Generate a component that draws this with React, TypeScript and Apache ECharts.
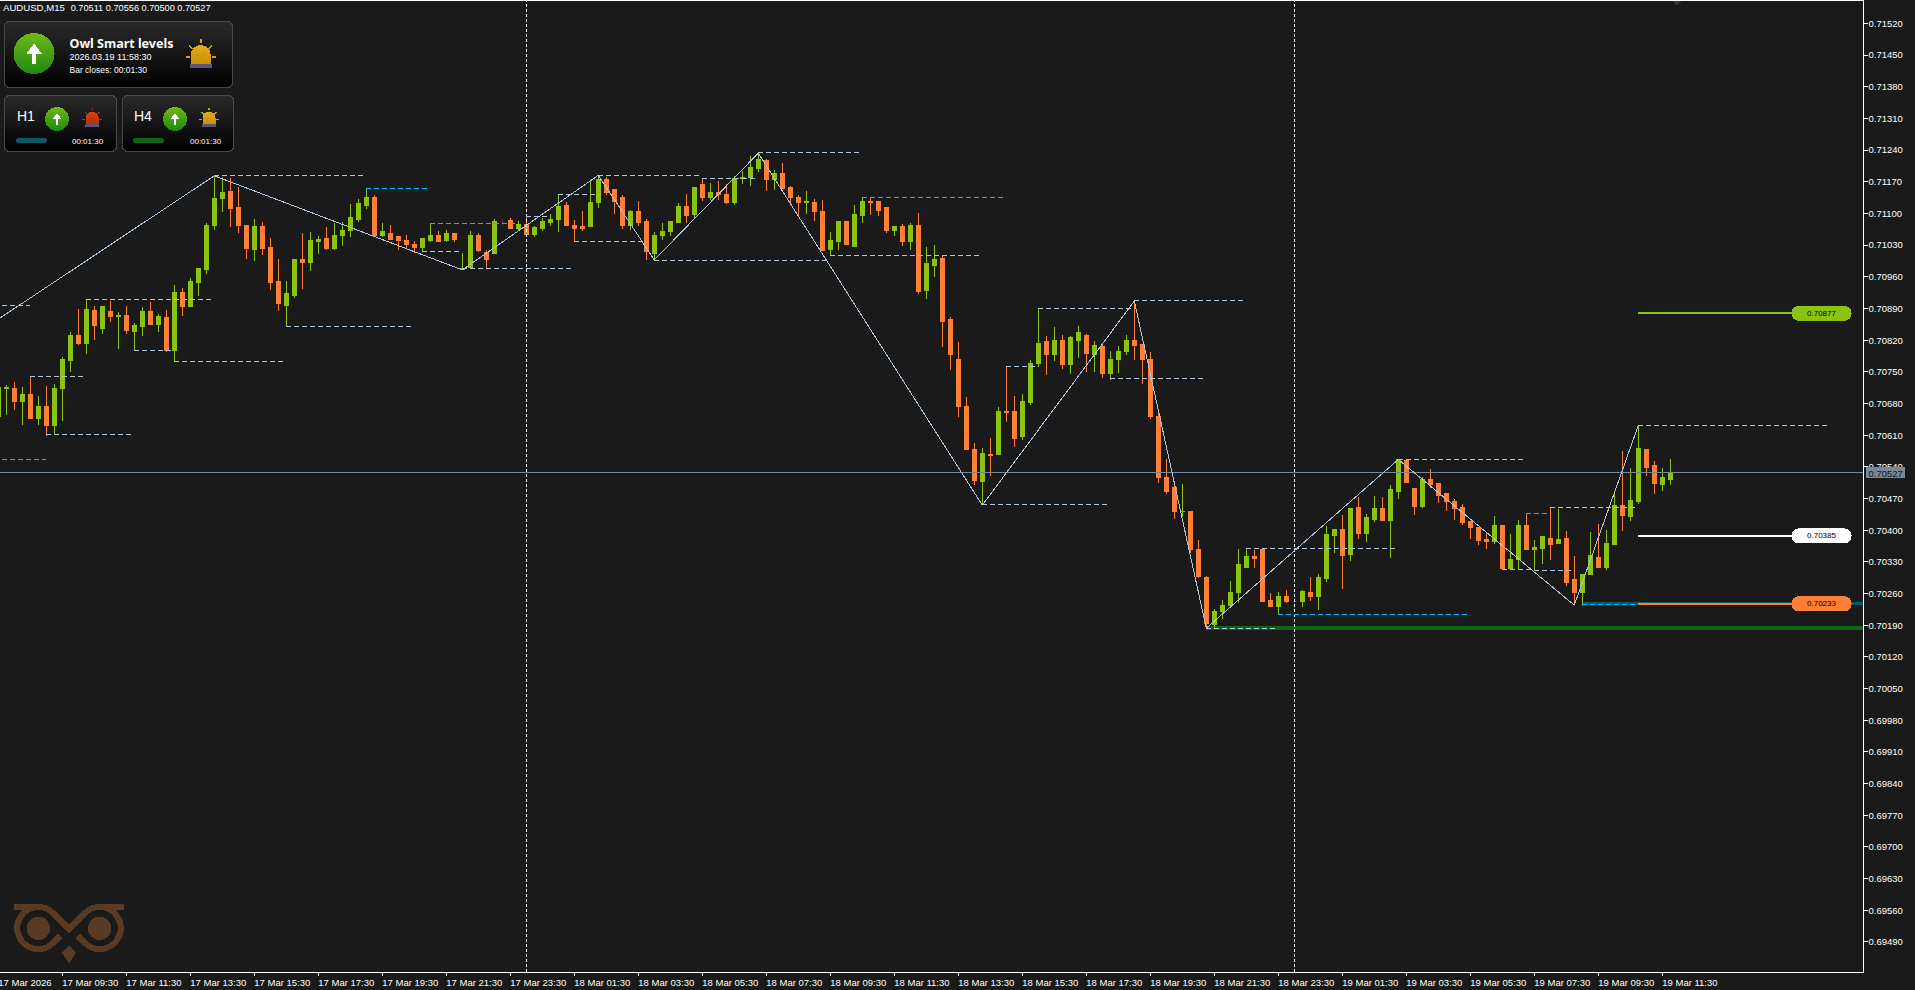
import React, { useEffect, useRef } from "react";
import * as echarts from "echarts";

const opens = [
0.70652,0.70712,0.70712,0.70685,0.70700,0.70647,0.70674,0.70630,0.70712,0.70774,
0.70829,0.70813,0.70886,0.70846,0.70884,0.70871,0.70875,0.70838,0.70849,0.70882,
0.70855,0.70869,0.70796,0.70926,0.70895,0.70948,0.70975,0.71074,0.71132,0.71149,
0.71112,0.71072,0.71021,0.71070,0.71025,0.70950,0.70897,0.70919,0.70997,0.70992,
0.71037,0.71045,0.71023,0.71050,0.71061,0.71087,0.71118,0.71134,0.71052,0.71056,
0.71048,0.71041,0.71032,0.71025,0.71041,0.71050,0.71039,0.71056,0.70975,0.70981,
0.71052,0.71014,0.71012,0.71079,0.71085,0.71067,0.71076,0.71054,0.71067,0.71079,
0.71087,0.71118,0.71074,0.71070,0.71070,0.71123,0.71174,0.71152,0.71136,0.71072,
0.71105,0.71081,0.71012,0.71050,0.71059,0.71079,0.71116,0.71098,0.71163,0.71134,
0.71147,0.71141,0.71123,0.71176,0.71180,0.71200,0.71216,0.71174,0.71187,0.71156,
0.71136,0.71123,0.71125,0.71105,0.71021,0.71037,0.71081,0.71026,0.71096,0.71127,
0.71127,0.71112,0.71063,0.71070,0.71037,0.71072,0.70930,0.70984,0.71001,0.70866,
0.70778,0.70672,0.70579,0.70508,0.70568,0.70568,0.70663,0.70663,0.70606,0.70681,
0.70769,0.70816,0.70787,0.70820,0.70765,0.70820,0.70831,0.70789,0.70805,0.70745,
0.70778,0.70794,0.70818,0.70809,0.70778,0.70650,0.70517,0.70493,0.70440,0.70442,
0.70358,0.70296,0.70192,0.70219,0.70234,0.70261,0.70318,0.70342,0.70358,0.70245,
0.70232,0.70254,0.70242,0.70241,0.70263,0.70254,0.70292,0.70389,0.70402,0.70345,
0.70449,0.70393,0.70424,0.70447,0.70422,0.70486,0.70553,0.70491,0.70453,0.70511,
0.70502,0.70480,0.70464,0.70449,0.70418,0.70405,0.70380,0.70374,0.70409,0.70314,
0.70334,0.70409,0.70358,0.70360,0.70382,0.70371,0.70382,0.70290,0.70263,0.70301,
0.70340,0.70318,0.70369,0.70455,0.70429,0.70464,0.70579,0.70542,0.70500,0.70511];

const highs = [
0.70714,0.70720,0.70727,0.70716,0.70739,0.70696,0.70718,0.70723,0.70783,0.70837,
0.70888,0.70910,0.70895,0.70893,0.70906,0.70882,0.70895,0.70857,0.70893,0.70904,
0.70877,0.70886,0.70942,0.70935,0.70957,0.70979,0.71079,0.71183,0.71180,0.71178,
0.71158,0.71074,0.71087,0.71081,0.71045,0.70999,0.70950,0.70997,0.71056,0.71059,
0.71050,0.71070,0.71079,0.71081,0.71121,0.71132,0.71155,0.71141,0.71079,0.71074,
0.71050,0.71052,0.71039,0.71045,0.71078,0.71061,0.71063,0.71056,0.71012,0.71061,
0.71056,0.71019,0.71087,0.71087,0.71090,0.71083,0.71094,0.71072,0.71090,0.71098,
0.71141,0.71125,0.71085,0.71105,0.71174,0.71184,0.71180,0.71154,0.71141,0.71107,
0.71127,0.71087,0.71059,0.71079,0.71081,0.71123,0.71143,0.71156,0.71178,0.71167,
0.71171,0.71165,0.71183,0.71194,0.71227,0.71233,0.71220,0.71196,0.71211,0.71160,
0.71141,0.71149,0.71132,0.71129,0.71059,0.71083,0.71081,0.71118,0.71135,0.71136,
0.71127,0.71112,0.71072,0.71076,0.71079,0.71101,0.71026,0.71030,0.71006,0.70871,
0.70816,0.70694,0.70592,0.70581,0.70603,0.70672,0.70762,0.70696,0.70701,0.70776,
0.70890,0.70829,0.70849,0.70831,0.70829,0.70851,0.70833,0.70818,0.70813,0.70796,
0.70807,0.70831,0.70906,0.70809,0.70793,0.70661,0.70557,0.70499,0.70502,0.70442,
0.70378,0.70298,0.70225,0.70245,0.70287,0.70358,0.70360,0.70356,0.70358,0.70261,
0.70263,0.70267,0.70260,0.70267,0.70296,0.70303,0.70409,0.70402,0.70433,0.70447,
0.70473,0.70435,0.70475,0.70473,0.70500,0.70556,0.70553,0.70493,0.70517,0.70535,
0.70502,0.70480,0.70469,0.70458,0.70418,0.70405,0.70393,0.70431,0.70411,0.70391,
0.70422,0.70437,0.70378,0.70385,0.70450,0.70447,0.70398,0.70343,0.70303,0.70396,
0.70413,0.70400,0.70480,0.70575,0.70537,0.70631,0.70579,0.70553,0.70537,0.70556];

const lows = [
0.70652,0.70654,0.70665,0.70632,0.70647,0.70632,0.70608,0.70611,0.70641,0.70749,
0.70809,0.70789,0.70820,0.70833,0.70860,0.70800,0.70833,0.70796,0.70829,0.70853,
0.70838,0.70793,0.70772,0.70873,0.70895,0.70917,0.70966,0.71063,0.71103,0.71070,
0.71056,0.70999,0.70995,0.71008,0.70930,0.70884,0.70849,0.70913,0.70933,0.70972,
0.71010,0.71019,0.71019,0.71028,0.71048,0.71081,0.71110,0.71052,0.71048,0.71041,
0.71019,0.71023,0.71012,0.71014,0.71037,0.71037,0.71037,0.71037,0.70975,0.70981,
0.71014,0.70978,0.71012,0.71072,0.71065,0.71063,0.71054,0.71048,0.71061,0.71072,
0.71059,0.71072,0.71038,0.71061,0.71070,0.71112,0.71141,0.71098,0.71065,0.71063,
0.71072,0.70997,0.70997,0.71041,0.71050,0.71079,0.71079,0.71090,0.71127,0.71129,
0.71129,0.71121,0.71118,0.71165,0.71160,0.71191,0.71149,0.71152,0.71154,0.71121,
0.71093,0.71098,0.71083,0.71017,0.71006,0.71019,0.71030,0.71026,0.71079,0.71096,
0.71094,0.71057,0.71050,0.71028,0.71019,0.70922,0.70911,0.70959,0.70804,0.70754,
0.70650,0.70577,0.70499,0.70455,0.70519,0.70568,0.70639,0.70584,0.70599,0.70676,
0.70760,0.70743,0.70774,0.70756,0.70745,0.70780,0.70749,0.70749,0.70736,0.70732,
0.70747,0.70787,0.70776,0.70723,0.70645,0.70504,0.70480,0.70424,0.70429,0.70349,
0.70294,0.70183,0.70183,0.70203,0.70234,0.70239,0.70316,0.70316,0.70243,0.70232,
0.70213,0.70239,0.70223,0.70230,0.70243,0.70223,0.70285,0.70349,0.70270,0.70332,
0.70380,0.70374,0.70418,0.70420,0.70338,0.70469,0.70504,0.70433,0.70449,0.70493,
0.70460,0.70442,0.70422,0.70411,0.70380,0.70367,0.70358,0.70369,0.70312,0.70312,
0.70314,0.70358,0.70309,0.70325,0.70334,0.70369,0.70276,0.70234,0.70232,0.70301,
0.70318,0.70312,0.70369,0.70398,0.70420,0.70458,0.70519,0.70480,0.70486,0.70500];

const closes = [
0.70714,0.70716,0.70685,0.70700,0.70647,0.70672,0.70632,0.70712,0.70776,0.70831,
0.70813,0.70888,0.70851,0.70893,0.70871,0.70875,0.70842,0.70851,0.70882,0.70855,
0.70871,0.70796,0.70926,0.70895,0.70950,0.70977,0.71074,0.71132,0.71147,0.71110,
0.71072,0.71023,0.71070,0.71023,0.70946,0.70900,0.70922,0.70997,0.70992,0.71039,
0.71043,0.71023,0.71052,0.71061,0.71090,0.71121,0.71136,0.71052,0.71059,0.71043,
0.71039,0.71030,0.71025,0.71045,0.71050,0.71037,0.71056,0.71043,0.70979,0.71050,
0.71017,0.70999,0.71083,0.71079,0.71067,0.71076,0.71054,0.71069,0.71081,0.71087,
0.71116,0.71072,0.71067,0.71067,0.71125,0.71174,0.71147,0.71127,0.71072,0.71105,
0.71079,0.71015,0.71052,0.71059,0.71081,0.71116,0.71096,0.71156,0.71134,0.71147,
0.71141,0.71125,0.71176,0.71180,0.71202,0.71220,0.71174,0.71187,0.71154,0.71136,
0.71123,0.71127,0.71103,0.71017,0.71039,0.71081,0.71030,0.71098,0.71127,0.71123,
0.71107,0.71063,0.71070,0.71037,0.71072,0.70928,0.70988,0.70999,0.70862,0.70787,
0.70672,0.70577,0.70510,0.70570,0.70564,0.70663,0.70659,0.70603,0.70683,0.70769,
0.70813,0.70787,0.70820,0.70765,0.70825,0.70836,0.70791,0.70807,0.70745,0.70778,
0.70794,0.70818,0.70807,0.70778,0.70650,0.70515,0.70486,0.70442,0.70442,0.70358,
0.70298,0.70194,0.70221,0.70234,0.70263,0.70323,0.70342,0.70338,0.70243,0.70232,
0.70254,0.70243,0.70242,0.70265,0.70254,0.70296,0.70391,0.70402,0.70343,0.70447,
0.70393,0.70427,0.70447,0.70422,0.70489,0.70555,0.70504,0.70453,0.70511,0.70500,
0.70477,0.70462,0.70447,0.70416,0.70405,0.70376,0.70374,0.70411,0.70314,0.70334,
0.70409,0.70358,0.70362,0.70385,0.70369,0.70380,0.70285,0.70261,0.70301,0.70343,
0.70318,0.70371,0.70455,0.70433,0.70466,0.70581,0.70539,0.70502,0.70515,0.70527];

const timeLabels = ["17 Mar 2026","17 Mar 09:30","17 Mar 11:30","17 Mar 13:30","17 Mar 15:30","17 Mar 17:30","17 Mar 19:30","17 Mar 21:30","17 Mar 23:30",
"18 Mar 01:30","18 Mar 03:30","18 Mar 05:30","18 Mar 07:30","18 Mar 09:30","18 Mar 11:30","18 Mar 13:30","18 Mar 15:30","18 Mar 17:30","18 Mar 19:30","18 Mar 21:30","18 Mar 23:30",
"19 Mar 01:30","19 Mar 03:30","19 Mar 05:30","19 Mar 07:30","19 Mar 09:30","19 Mar 11:30"];

const priceTicks = [0.7152,0.7145,0.7138,0.7131,0.7124,0.7117,0.711,0.7103,0.7096,0.7089,0.7082,0.7075,0.7068,0.7061,0.7054,0.7047,0.704,0.7033,0.7026,0.7019,0.7012,0.7005,0.6998,0.6991,0.6984,0.6977,0.697,0.6963,0.6956,0.6949];

const zigzagBars = [0,27,58,75,82,95,123,142,151,175,197,205];
const zigzagPrices = [0.70866,0.71183,0.70975,0.71184,0.70997,0.71233,0.70455,0.70906,0.70183,0.70556,0.70234,0.70631];

// start bar, end bar, price
const paleLevels = [
[27,46,0.71183],[0.5,4,0.70897],[11,27,0.70910],[53,58,0.71016],[58,72,0.70978],[36,52,0.70850],[22,36,0.70773],[17,22,0.70797],[4,11,0.70740],[6,17,0.70611],
[66,69,0.71093],[70,75,0.71142],[75,88,0.71184],[88,95,0.71177],[95,108,0.71235],[72,81,0.71038],[82,104,0.70996],[104,123,0.71007],
[126,130,0.70762],[130,142,0.70890],[142,156,0.70908],[139,151,0.70735],[123,139,0.70457],[151,160,0.70183],[156,175,0.70360],
[175,191,0.70556],[194,205,0.70450],[192,197,0.70311],[188,192,0.70313],[205,228.6,0.70631]];
const cyanLevels = [[46,54,0.71155],[54,65,0.71078],[0.5,6,0.70556],[108,126,0.71135],[160,184,0.70213],[191,194,0.70437],[198,205,0.70235]];

const greenZone = [[151,233.1,0.70183]];
const tealZone = [[198,233.1,0.70237]];
const upTarget = [[205,224.2,0.70879]];
const midTarget = [[205,224.2,0.70387]];
const downTarget = [[205,224.2,0.70237]];
const currentLine = [[-0.5,233.1,0.70527]];
const separatorBars = [66,162];

const pillBar = 227.9;
const pillPrices = [0.70879,0.70387,0.70237];
const pillTexts = ["0.70877","0.70385","0.70233"];
const pillColors = ["#8bc314","#ffffff","#ff7f36"];

const BG = "#1a1a1a", UP = "#8bc314", DOWN = "#ff7f36", DOJI = "#2c3542", PALE = "#b0c4de", CYAN = "#00bfff";
const SANS = "'Liberation Sans',sans-serif";

echarts.graphic.registerShape("owlBand", echarts.graphic.extendPath(
  "M14 907 H38 A21 21 0 1 0 53 943 L60 936 M38 907 A21 21 0 0 1 53 913 L69 929 L85 913 A21 21 0 0 1 100 907 H124 M100 907 A21 21 0 1 1 85 943 L78 936", {}));

function grad(a: string, b: string) {
  return new echarts.graphic.LinearGradient(0, 0, 0, 1, [{ offset: 0, color: a }, { offset: 1, color: b }]);
}
function panel(x: number, y: number, w: number, h: number) {
  return { type: "rect", shape: { x, y, width: w, height: h, r: 5 }, style: { fill: grad("#2a2a2a", "#000000"), stroke: "#484848", lineWidth: 1 }, z: 20 };
}
function text(t: string, x: number, y: number, size: number, extra: any = {}) {
  return { type: "text", x, y, z: 25, style: { text: t, fill: "#ffffff", fontSize: size, fontFamily: SANS, verticalAlign: "middle", ...extra } };
}
function upBadge(cx: number, cy: number, r: number) {
  const k = r / 20.5;
  const p = (dx: number, dy: number) => [cx + dx * k, cy + dy * k];
  return [
    { type: "circle", z: 22, shape: { cx, cy, r }, style: { fill: grad("#6fb915", "#1d8a10") } },
    { type: "polygon", z: 23, shape: { points: [p(0, -10), p(7.5, 0), p(2.2, 0), p(2.2, 10), p(-2.2, 10), p(-2.2, 0), p(-7.5, 0)] }, style: { fill: "#ffffff" } },
  ];
}
function alarm(cx: number, base: number, k: number, dome: string, domeLow: string, ray: string) {
  const w = 10 * k, h = 19 * k;
  const cy = base - 7 * k;
  const ln = (a: number, b: number, c: number, d: number) => ({
    type: "line", z: 22, shape: { x1: cx + a * k, y1: cy + b * k, x2: cx + c * k, y2: cy + d * k }, style: { stroke: ray, lineWidth: 1.6 * k },
  });
  return [
    ln(0, -18, 0, -14), ln(-11.5, -11.5, -8, -8), ln(11.5, -11.5, 8, -8), ln(-15, 0, -11, 0), ln(15, 0, 11, 0),
    { type: "rect", z: 22, shape: { x: cx - w, y: base - h, width: 2 * w, height: h, r: [w, w, 0, 0] }, style: { fill: grad(dome, domeLow) } },
    { type: "polyline", z: 23, shape: { points: [[cx - 3 * k, base - 5 * k], [cx - 3 * k, base - 10 * k], [cx, base - 7 * k], [cx + 3 * k, base - 10 * k], [cx + 3 * k, base - 5 * k]] }, style: { stroke: domeLow, fill: "none", lineWidth: 1.2 * k, opacity: 0.7 } },
    { type: "rect", z: 22, shape: { x: cx - 11 * k, y: base, width: 22 * k, height: 4 * k }, style: { fill: "#5c5478" } },
  ];
}

function levelSeries(rows: number[][], color: string, width: number, dash: any, z: number) {
  return rows.map(([a, b, p]) => ({
    type: "line", xAxisIndex: 1, yAxisIndex: 0, data: [[a, p], [b, p]], symbol: "none", silent: true, z,
    lineStyle: { color, width, type: dash },
  }));
}

export default function App() {
  const ref = useRef<HTMLDivElement>(null);
  useEffect(() => {
    document.body.style.margin = "0";
    document.body.style.background = BG;
    document.body.style.overflow = "hidden";
    const chart = echarts.init(ref.current!, null, { renderer: "svg" });
    const categories = Array.from({ length: 234 }, (_, i) => (i % 8 === 0 && i / 8 < timeLabels.length ? timeLabels[i / 8] : " "));
    const candles = opens.map((o, i) => {
      const value = [o, closes[i], lows[i], highs[i]];
      return o === closes[i]
        ? { value, itemStyle: { color: DOJI, color0: DOJI, borderColor: DOJI, borderColor0: DOJI, borderColorDoji: DOJI } }
        : value;
    });
    const yMin = 0.694231, yMax = 0.715693;
    chart.setOption({
      animation: false,
      backgroundColor: BG,
      grid: { left: -5.7, top: 1, width: 1872, height: 971, containLabel: false, outerBoundsMode: "none" },
      xAxis: [
        {
          type: "category", data: categories, boundaryGap: true,
          axisLine: { show: false },
          axisTick: { show: true, alignWithLabel: true, length: 4, lineStyle: { color: "#ffffff", width: 1 }, interval: (i: number) => i % 8 === 0 && i <= 208 },
          axisLabel: { show: true, align: "left", margin: 5, color: "#ffffff", fontSize: 9.5, fontFamily: SANS, hideOverlap: false, interval: (i: number) => i % 8 === 0 && i <= 208, verticalAlign: "top" },
          splitLine: { show: false },
        },
        { type: "value", show: false, min: -0.5, max: 233.5, splitLine: { show: false } },
      ],
      yAxis: [{
        type: "value", position: "right", offset: -3.3, min: yMin, max: yMax,
        axisLine: { show: true, onZero: false, lineStyle: { color: "#ffffff", width: 1 } },
        axisTick: { show: true, length: 5, customValues: priceTicks, lineStyle: { color: "#ffffff", width: 1 } },
        axisLabel: { show: true, margin: 5.5, color: "#ffffff", fontSize: 9.5, fontFamily: SANS, customValues: priceTicks, formatter: (v: number) => v.toFixed(5), hideOverlap: false },
        splitLine: { show: false },
      }],
      series: [
        ...levelSeries(greenZone, "#0d6414", 4, "solid", 1),
        ...levelSeries(tealZone, "#0c5a68", 3, "solid", 1),
        {
          type: "candlestick", xAxisIndex: 0, yAxisIndex: 0, data: candles, barWidth: 4, z: 2, silent: true,
          itemStyle: { color: UP, color0: DOWN, borderColor: UP, borderColor0: DOWN, borderWidth: 1 },
        },
        ...separatorBars.map((b) => ({
          type: "line", xAxisIndex: 1, yAxisIndex: 0, data: [[b, yMin], [b, yMax]], symbol: "none", silent: true, z: 3,
          lineStyle: { color: "#ffffff", width: 1, type: [3, 2] },
        })),
        ...levelSeries(currentLine, "#778899", 1, "solid", 3),
        ...levelSeries(paleLevels, PALE, 1, [5, 3], 4),
        ...levelSeries(cyanLevels, CYAN, 1, [5, 3], 4),
        {
          type: "line", xAxisIndex: 1, yAxisIndex: 0, data: zigzagBars.map((b, i) => [b, zigzagPrices[i]]), symbol: "none", silent: true, z: 4,
          lineStyle: { color: PALE, width: 1 },
        },
        ...levelSeries(upTarget, UP, 2, "solid", 5),
        ...levelSeries(midTarget, "#ffffff", 2, "solid", 5),
        ...levelSeries(downTarget, DOWN, 2, "solid", 5),
        {
          type: "scatter", xAxisIndex: 1, yAxisIndex: 0, symbolSize: 1, silent: true, z: 6,
          itemStyle: { color: "rgba(0,0,0,0)", opacity: 1 },
          data: pillPrices.map((p, i) => ({
            value: [pillBar, p],
            label: {
              show: true, position: "inside", formatter: pillTexts[i], color: "#000000", fontSize: 8, fontFamily: SANS,
              backgroundColor: pillColors[i], borderRadius: 7, width: 60, height: 15, lineHeight: 15, align: "center", verticalAlign: "middle",
            },
          })),
        },
      ],
      graphic: [
        { type: "rect", z: 30, shape: { x: 0, y: 0, width: 1864, height: 1 }, style: { fill: "#ffffff" } },
        { type: "rect", z: 30, shape: { x: 0, y: 972, width: 1864, height: 1 }, style: { fill: "#ffffff" } },
        { type: "polygon", z: 30, shape: { points: [[1672.5, 1], [1681, 1], [1676.7, 5.5]] }, style: { fill: "#2c3b48" } },
        { type: "rect", z: 30, shape: { x: 1866, y: 467, width: 39, height: 11 }, style: { fill: "#778899" } },
        { type: "text", z: 31, x: 1868.5, y: 473, style: { text: "0.70527", fill: "#10161c", fontSize: 9.5, fontFamily: SANS, verticalAlign: "middle" } },
        text("AUDUSD,M15", 3, 7.5, 9.6),
        text("0.70511 0.70556 0.70500 0.70527", 70.7, 7.5, 9.2),
        panel(4.5, 21.5, 228, 66), panel(4.5, 95.5, 112, 56), panel(122.5, 95.5, 111, 56),
        ...upBadge(34, 53.5, 20.5),
        text("Owl Smart levels", 69.5, 43.5, 12.5, { fontWeight: "bold", fontFamily: "'Noto Sans',sans-serif" }),
        text("2026.03.19 11:58:30", 69.5, 57, 9),
        text("Bar closes: 00:01:30", 69.5, 70, 8.5),
        ...alarm(200.7, 64, 1, "#e3ac12", "#c98f08", "#d4a020"),
        text("H1", 17, 116, 14),
        ...upBadge(57, 119, 12),
        ...alarm(92.2, 124, 0.65, "#e0410c", "#b82e06", "#a83a18"),
        { type: "rect", z: 22, shape: { x: 16, y: 138, width: 31, height: 5, r: 2.5 }, style: { fill: "#0c5a68" } },
        text("00:01:30", 72, 141, 8),
        text("H4", 134, 116, 14),
        ...upBadge(175, 119, 12),
        ...alarm(209, 124, 0.65, "#e3ac12", "#c98f08", "#c99a20"),
        { type: "rect", z: 22, shape: { x: 133, y: 138, width: 31, height: 5, r: 2.5 }, style: { fill: "#0d6414" } },
        text("00:01:30", 190, 141, 8),
        { type: "owlBand", z: 10, x: 0, y: 0, style: { fill: "none", stroke: "#5a3a22", lineWidth: 6 } },
        { type: "circle", z: 10, shape: { cx: 38.3, cy: 928.3, r: 11.7 }, style: { fill: "#5a3a22" } },
        { type: "circle", z: 10, shape: { cx: 99.7, cy: 928.3, r: 11.7 }, style: { fill: "#5a3a22" } },
        { type: "polygon", z: 10, shape: { points: [[61.7, 952.3], [69, 945.7], [76.3, 952.3], [69, 963.3]] }, style: { fill: "#5a3a22" } },
      ],
    });
    return () => chart.dispose();
  }, []);
  return (
    <>
      <style>{"#owl-chart svg path{shape-rendering:crispEdges}"}</style>
      <div id="owl-chart" ref={ref} style={{ position: "fixed", left: 0, top: 0, width: 1915, height: 990 }} />
    </>
  );
}
